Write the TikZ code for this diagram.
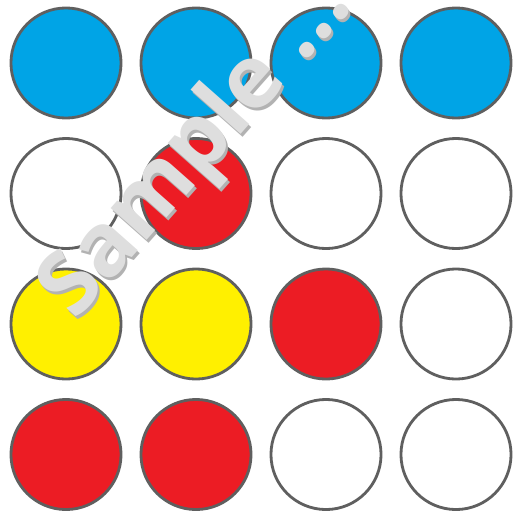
\documentclass[tikz,border=0pt]{standalone}
\usepackage{fontspec}
\newfontfamily\markfont{Open Sans}
\definecolor{dotblue}{RGB}{0,164,230}
\definecolor{dotred}{RGB}{236,28,36}
\definecolor{dotyellow}{RGB}{255,240,0}
\definecolor{rimgray}{RGB}{95,95,95}
\definecolor{markgray}{RGB}{178,178,178}
\definecolor{markwhite}{RGB}{222,222,222}
\usetikzlibrary{positioning}

\begin{document}
\begin{tikzpicture}[x=0.01cm, y=-0.01cm,
    dot/.style={circle, draw=rimgray, line width=0.8pt, minimum size=1.1cm, inner sep=0pt},
    watermark/.style={rotate=48.5, anchor=base west, font=\markfont\bfseries\fontsize{25}{30}\selectfont}]
    \useasboundingbox (0,0) rectangle (515,515);

    % Grid of dots, row by row
    \foreach \r/\cols in {1/{dotblue,dotblue,dotblue,dotblue},
                          2/{white,dotred,white,white},
                          3/{dotyellow,dotyellow,dotred,white},
                          4/{dotred,dotred,white,white}} {
        \foreach \fc [count=\c] in \cols {
            \node[dot, fill=\fc] (d\r\c) at ({66+130*(\c-1)},{63+130.5*(\r-1)}) {};
        }
    }

    % Watermark
    \node[watermark, text=markgray] (markshade) at (69,334) {Sample ...};
    \node[watermark, text=markwhite] (mark) at (67,331) {Sample ...};
\end{tikzpicture}
\end{document}
